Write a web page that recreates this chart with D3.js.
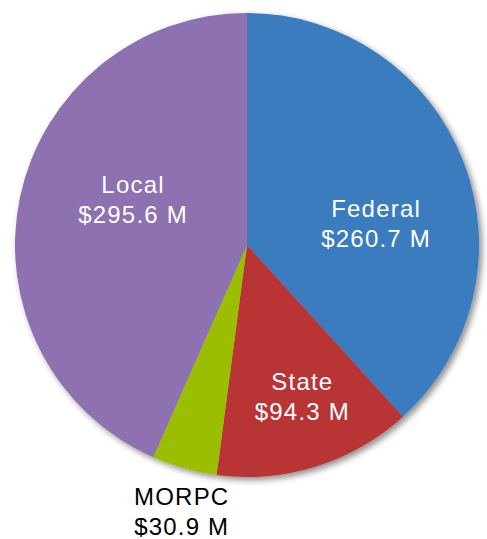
<!DOCTYPE html>
<html>
<head>
<meta charset="utf-8">
<script src="https://cdn.jsdelivr.net/npm/d3@7"></script>
<style>
  body { margin: 0; background: #fff; }
  svg { display: block; }
</style>
</head>
<body>
<div id="chart"></div>
<script>
// values (millions of dollars)
const sources = ["Federal", "State", "MORPC", "Local"]
const amounts = [260.7, 94.3, 30.9, 295.6]
const sliceColors = ["#3b7bbf", "#b93636", "#9bbf00", "#8d71b0"]

// label placement: distance from centre (fraction of radius) and angle nudge (degrees)
const labelDist = [0.566, 0.685, 1.172, 0.533]
const labelNudge = [10.6, -3, -1.8, 10.9]
const labelInside = [true, true, false, true]

let width = 487
let height = 539
let cx = 247, cy = 245, radius = 232

const svg = d3.select("#chart")
	.append("svg")
	.attr("width", width)
	.attr("height", height)

var defs = svg.append("defs")
var shadow = defs.append("filter")
	.attr("id", "shadow")
	.attr("x", "-10%").attr("y", "-10%")
	.attr("width", "125%").attr("height", "125%")
shadow.append("feDropShadow")
	.attr("dx", 3).attr("dy", 3)
	.attr("stdDeviation", 3)
	.attr("flood-color", "#000")
	.attr("flood-opacity", 0.45)

const data = sources.map((s, i) => ({name: s, value: amounts[i], i: i}))

const pie = d3.pie().sort(null).value(d => d.value)
const arc = d3.arc().innerRadius(0).outerRadius(radius)
const arcs = pie(data)

const g = svg.append("g").attr("transform", "translate(" + cx + "," + cy + ")")

g.append("g")
	.attr("filter", "url(#shadow)")
	.selectAll("path")
	.data(arcs)
	.enter().append("path")
	.attr("d", arc)
	.attr("fill", d => sliceColors[d.data.i])

const labels = g.selectAll(".lbl")
	.data(arcs)
	.enter().append("text")
	.attr("class", "lbl")
	.attr("text-anchor", "middle")
	.attr("font-family", "Liberation Sans, Arial, sans-serif")
	.attr("font-size", 24)
	.attr("letter-spacing", 1.2)
	.attr("fill", d => labelInside[d.data.i] ? "#fff" : "#000")
	.attr("transform", d => {
		let a = (d.startAngle + d.endAngle) / 2 + labelNudge[d.data.i] * Math.PI / 180
		let r = radius * labelDist[d.data.i]
		return "translate(" + (r * Math.sin(a)) + "," + (-r * Math.cos(a)) + ")"
	})

// two lines: name, then amount
labels.append("tspan")
	.attr("x", 0).attr("dy", -4)
	.text(d => d.data.name)
labels.append("tspan")
	.attr("x", 0).attr("dy", 30)
	.text(d => "$" + d.data.value.toFixed(1) + " M")
</script>
</body>
</html>
